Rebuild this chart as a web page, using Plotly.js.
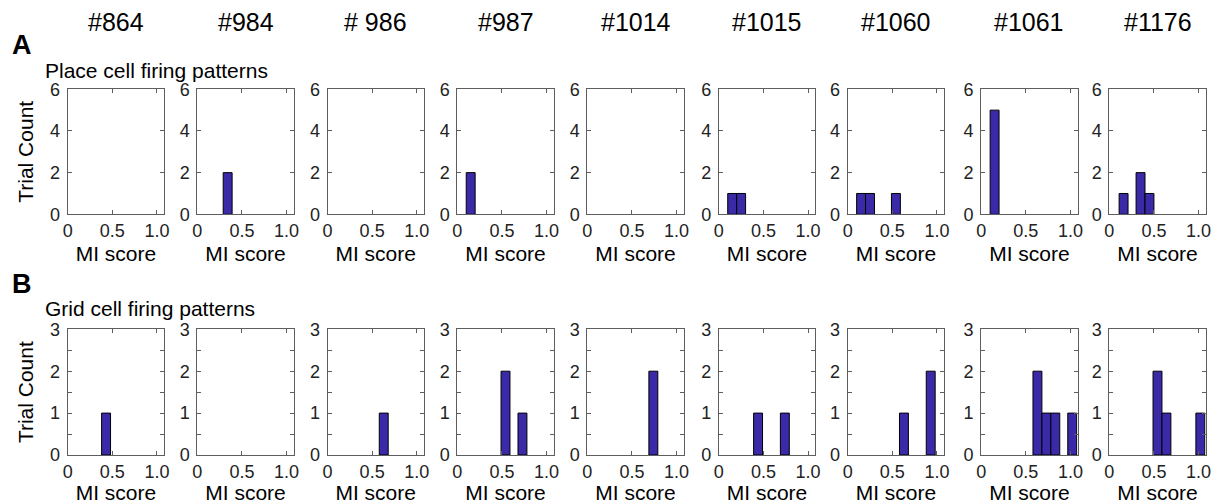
<!DOCTYPE html>
<html>
<head>
<meta charset="utf-8">
<script src="https://cdn.plot.ly/plotly-3.0.1.min.js"></script>
<style>html,body{margin:0;padding:0;background:#fff;}#chart{width:1226px;height:504px;}</style>
</head>
<body>
<div id="chart"></div>
<script>
// ---- data ----
const animals = ['#864', '#984', '# 986', '#987', '#1014', '#1015', '#1060', '#1061', '#1176'];
const xTickVals = [0, 0.5, 1.0];
const xTickText = ['0', '0.5', '1.0'];
const placeTickVals = [0, 2, 4, 6];
const gridTickVals = [0, 1, 2, 3];

// Place cell histogram: bin centres (MI score) and trial counts per animal
const placeBins = [[], [0.34], [], [0.15], [], [0.15, 0.25], [0.15, 0.25, 0.54], [0.15], [0.16, 0.35, 0.45]];
const placeCounts = [[], [2], [], [2], [], [1, 1], [1, 1, 1], [5], [1, 2, 1]];

// Grid cell histogram
const gridBins = [[0.43], [], [0.63], [0.54, 0.73], [0.74], [0.44, 0.74], [0.63, 0.93], [0.63, 0.73, 0.83, 1.02], [0.54, 0.64, 1.02]];
const gridCounts = [[1], [], [1], [2, 1], [2], [1, 1], [1, 2], [2, 1, 1, 1], [2, 1, 1]];

// ---- layout helpers ----
const W = 1226, H = 504;
const FONT = 'Liberation Sans, Arial, sans-serif';
const lefts = [67.7, 197.3, 327.5, 457.3, 587.3, 718.8, 847.7, 981.2, 1109.3];
const pw = 96.4;
const rows = [
  {top: 89.3, bottom: 214.3, bins: placeBins, counts: placeCounts, yr: [0, 6], yt: placeTickVals, minor: null, standoff: 6},
  {top: 329.3, bottom: 455.0, bins: gridBins, counts: gridCounts, yr: [0, 3], yt: gridTickVals, minor: 0.5, standoff: 3}
];
const fx = p => p / W;
const fy = p => 1 - p / H;

const data = [];
const layout = {
  width: W, height: H,
  margin: {l: 0, r: 0, t: 0, b: 0},
  paper_bgcolor: '#fff', plot_bgcolor: '#fff',
  showlegend: false,
  font: {family: FONT, color: '#000'},
  annotations: []
};

let n = 0;
rows.forEach((row, r) => {
  animals.forEach((name, i) => {
    n++;
    const xa = 'x' + (n === 1 ? '' : n), ya = 'y' + (n === 1 ? '' : n);
    const xk = 'xaxis' + (n === 1 ? '' : n), yk = 'yaxis' + (n === 1 ? '' : n);
    data.push({
      type: 'bar', x: row.bins[i], y: row.counts[i], width: 0.1,
      xaxis: xa, yaxis: ya,
      marker: {color: '#3a2aa8', line: {color: '#000', width: 1}},
      hoverinfo: 'x+y'
    });
    layout[xk] = {
      domain: [fx(lefts[i]), fx(lefts[i] + pw)], anchor: ya,
      range: [0, 1.08], fixedrange: true,
      tickmode: 'array', tickvals: xTickVals, ticktext: xTickText,
      ticks: 'inside', ticklen: 4, tickcolor: '#5e5e5e', tickwidth: 1,
      showline: true, linecolor: '#5e5e5e', linewidth: 1, mirror: 'ticks',
      showgrid: false, zeroline: false,
      tickfont: {family: FONT, size: 18, color: '#222'},
      title: {text: 'MI score', font: {family: FONT, size: 21, color: '#000'}, standoff: row.standoff},
      automargin: false
    };
    const yax = {
      domain: [fy(row.bottom), fy(row.top)], anchor: xa,
      range: row.yr, fixedrange: true,
      tickmode: 'array', tickvals: row.yt,
      ticks: 'inside', ticklen: 4, tickcolor: '#5e5e5e', tickwidth: 1,
      showline: true, linecolor: '#5e5e5e', linewidth: 1, mirror: 'ticks',
      showgrid: false, zeroline: false,
      tickfont: {family: FONT, size: 18, color: '#222'},
      ticklabelstandoff: 3,
      automargin: false
    };
    if (row.minor) yax.minor = {dtick: row.minor, ticks: 'inside', ticklen: 4, tickcolor: '#5e5e5e', showgrid: false};
    if (i === 0) yax.title = {text: 'Trial Count', font: {family: FONT, size: 21, color: '#000'}, standoff: 10};
    layout[yk] = yax;
  });
});

// column headers
animals.forEach((name, i) => {
  layout.annotations.push({
    text: name, xref: 'paper', yref: 'paper',
    x: fx(lefts[i] + pw / 2), y: fy(22.5), xanchor: 'center', yanchor: 'middle',
    showarrow: false, font: {family: FONT, size: 25, color: '#000'}
  });
});
// panel letters and section titles
const extras = [
  {text: '<b>A</b>', x: 10, y: 45, size: 27},
  {text: 'Place cell firing patterns', x: 43, y: 70.5, size: 21},
  {text: '<b>B</b>', x: 10, y: 284, size: 27},
  {text: 'Grid cell firing patterns', x: 43, y: 308.5, size: 21}
];
extras.forEach(e => layout.annotations.push({
  text: e.text, xref: 'paper', yref: 'paper', x: fx(e.x), y: fy(e.y),
  xanchor: 'left', yanchor: 'middle', showarrow: false,
  font: {family: FONT, size: e.size, color: '#000'}
}));

Plotly.newPlot('chart', data, layout, {staticPlot: true, displayModeBar: false});
</script>
</body>
</html>
